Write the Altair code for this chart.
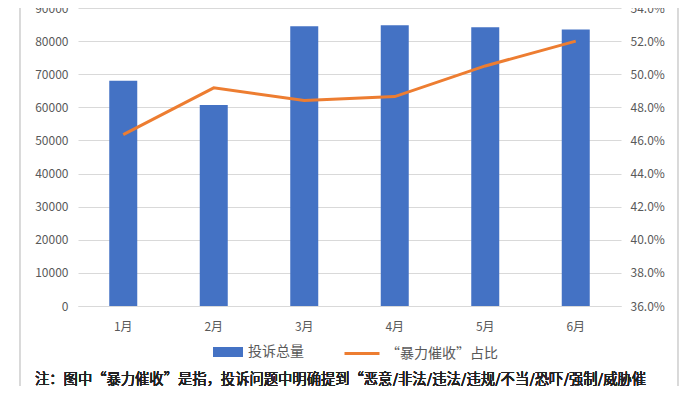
import altair as alt
import pandas as pd

months = ["1月", "2月", "3月", "4月", "5月", "6月"]
complaints = [68000, 60700, 84500, 84800, 84200, 83500]
violent_share = [0.4635, 0.4918, 0.4842, 0.4865, 0.5050, 0.5200]
left_ticks = [0, 10000, 20000, 30000, 40000, 50000, 60000, 70000, 80000, 90000]
right_ticks = [0.36, 0.38, 0.40, 0.42, 0.44, 0.46, 0.48, 0.50, 0.52, 0.54]
bar_name = "投诉总量"
line_name = "“暴力催收”占比"
note = "注：图中“暴力催收”是指，投诉问题中明确提到“恶意/非法/违法/违规/不当/恐吓/强制/威胁催"

df = pd.DataFrame({
    "month": months,
    "complaints": complaints,
    "share": violent_share,
    "bar_s": bar_name,
    "line_s": line_name,
})

FONT = "Noto Sans CJK SC"
GRAY = "#595959"

x = alt.X("month:N", sort=months, title=None,
          axis=alt.Axis(labelAngle=0, ticks=False, domain=True, domainColor="#d9d9d9",
                        labelPadding=15, labelFontSize=12, labelColor=GRAY, labelFont=FONT),
          scale=alt.Scale(paddingInner=0.69, paddingOuter=0.345))

bars = alt.Chart(df).mark_bar(size=28).encode(
    x=x,
    y=alt.Y("complaints:Q", title=None,
            scale=alt.Scale(domain=[0, 90000], nice=False),
            axis=alt.Axis(values=left_ticks, format="d", ticks=False, domain=False,
                          grid=True, gridColor="#d9d9d9", labelPadding=10,
                          labelFontSize=12, labelColor=GRAY, labelFont=FONT)),
    fill=alt.Fill("bar_s:N", scale=alt.Scale(range=["#4472C4"]),
                  legend=alt.Legend(title=None, orient="none", legendX=140, legendY=334,
                                    symbolType="M-1.5,-0.5H1.5V0.5H-1.5Z", symbolSize=400,
                                    symbolStrokeWidth=0, labelFontSize=14, labelColor=GRAY,
                                    labelFont=FONT, labelOffset=10, padding=0)),
)

line = alt.Chart(df).mark_line(strokeWidth=3).encode(
    x=x,
    y=alt.Y("share:Q", title=None,
            scale=alt.Scale(domain=[0.36, 0.54], nice=False),
            axis=alt.Axis(values=right_ticks, format=".1%", orient="right", ticks=False,
                          domain=False, grid=False, labelPadding=9,
                          labelFontSize=12, labelColor=GRAY, labelFont=FONT)),
    stroke=alt.Stroke("line_s:N", scale=alt.Scale(range=["#ED7D31"]),
                      legend=alt.Legend(title=None, orient="none", legendX=265, legendY=326.5,
                                        symbolType="stroke", symbolSize=1225,
                                        symbolStrokeWidth=3, labelFontSize=14,
                                        labelColor=GRAY, labelFont=FONT, labelOffset=5,
                                        padding=0)),
)

note_text = alt.Chart(df).mark_text(align="left", baseline="middle", fontSize=14.3,
                                    font=FONT, color="#222222").encode(
    x=alt.value(-43), y=alt.value(372), text=alt.value(note)
)

frame = alt.Chart(df).mark_rule(color="#d9d9d9", strokeWidth=1).encode(
    x=alt.value(-58), y=alt.value(-10), y2=alt.value(400)
)
frame2 = alt.Chart(df).mark_rule(color="#d9d9d9", strokeWidth=1).encode(
    x=alt.value(600), y=alt.value(-10), y2=alt.value(400)
)

chart = alt.layer(bars, line, note_text, frame, frame2).resolve_scale(
    y="independent", fill="independent", stroke="independent"
).properties(
    width=543, height=298,
    autosize=alt.AutoSizeParams(type="none"),
    padding={"left": 70, "top": 0, "right": 60, "bottom": 80},
    background="white",
).configure_view(stroke=None)

chart.save("out.html", embed_options={"renderer": "svg", "actions": False})
